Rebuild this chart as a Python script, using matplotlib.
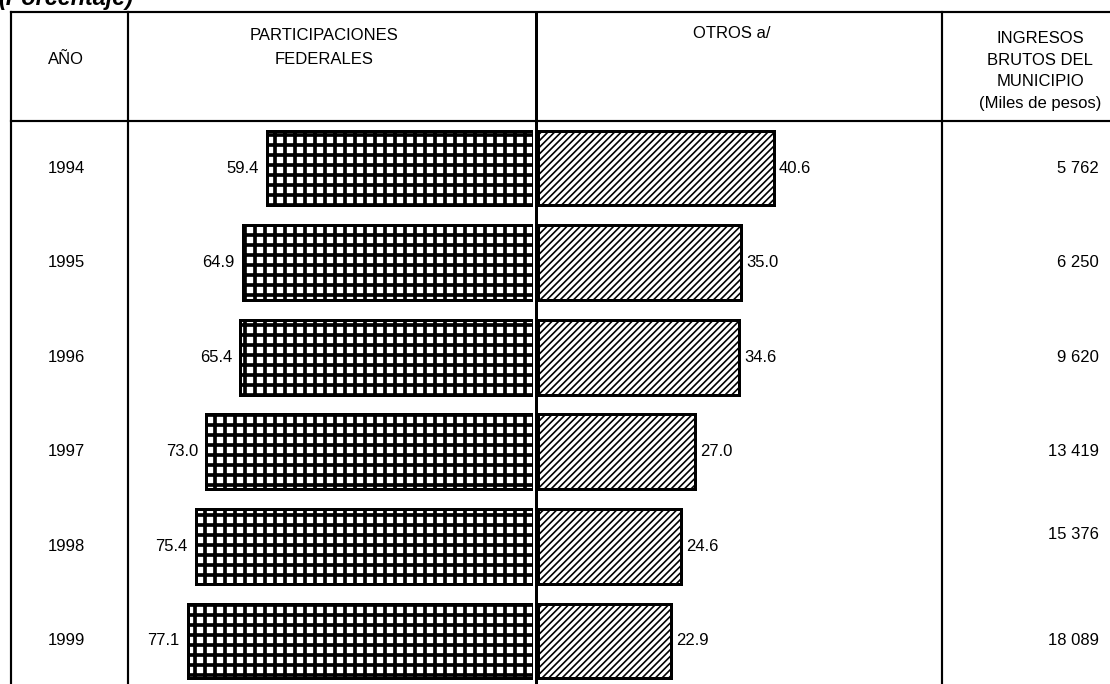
import matplotlib.pyplot as plt
from matplotlib.lines import Line2D

plt.rcParams['font.family'] = ['Liberation Sans', 'DejaVu Sans']

years = ["1994", "1995", "1996", "1997", "1998", "1999"]
participaciones = [59.4, 64.9, 65.4, 73.0, 75.4, 77.1]
otros = [40.6, 35.0, 34.6, 27.0, 24.6, 22.9]
ingresos = ["5 762", "6 250", "9 620", "13 419", "15 376", "18 089"]

W, H = 1110, 684
fig = plt.figure(figsize=(W / 120, H / 120), dpi=120)

# background axes in pixel units for the table frame and headers
bg = fig.add_axes([0, 0, 1, 1])
bg.set_xlim(0, W)
bg.set_ylim(H, 0)
bg.axis('off')

lw = 1.3
for y in (12, 121):
    bg.add_line(Line2D([11, W], [y, y], color='black', lw=lw))
for x in (11, 128, 942):
    bg.add_line(Line2D([x, x], [12, H], color='black', lw=lw))
bg.add_line(Line2D([536, 536], [12, H], color='black', lw=1.8))

fs = 10
bg.text(-2, 5, "(Porcentaje)", fontsize=14, fontweight='bold', fontstyle='italic',
        ha='left', va='baseline')
bg.text(66, 60, "AÑO", fontsize=fs, ha='center', va='center')
bg.text(324, 47, "PARTICIPACIONES\nFEDERALES", fontsize=fs, ha='center', va='center',
        linespacing=1.75)
bg.text(732, 33, "OTROS a/", fontsize=fs, ha='center', va='center')
bg.text(1040, 71, "INGRESOS\nBRUTOS DEL\nMUNICIPIO\n(Miles de pesos)", fontsize=fs,
        ha='center', va='center', linespacing=1.58)

# bar axes
top_px, left0, right0 = 121, 533, 538
pos = list(range(len(years)))
ylim = (5.455, -0.497)

ax_l = fig.add_axes([128 / W, 0, (left0 - 128) / W, (H - top_px) / H])
ax_r = fig.add_axes([right0 / W, 0, (942 - right0) / W, (H - top_px) / H])
for ax in (ax_l, ax_r):
    ax.set_ylim(*ylim)
    ax.axis('off')
    ax.patch.set_alpha(0)
ax_l.set_xlim((left0 - 128) / 4.475, 0)
ax_r.set_xlim(0, (942 - right0) / 5.81)

with plt.rc_context({'hatch.linewidth': 2.2}):
    bl = ax_l.barh(pos, participaciones, height=0.79, color='white',
                   edgecolor='black', hatch='++', lw=1.8)
with plt.rc_context({'hatch.linewidth': 1.0}):
    br = ax_r.barh(pos, otros, height=0.79, color='white',
                   edgecolor='black', hatch='//////', lw=1.8)

for p, v in zip(pos, participaciones):
    ax_l.annotate(f"{v:.1f}", (v, p), xytext=(-5, 0), textcoords='offset points',
                  ha='right', va='center', fontsize=fs)
for p, v in zip(pos, otros):
    ax_r.annotate(f"{v:.1f}", (v, p), xytext=(3, 0), textcoords='offset points',
                  ha='left', va='center', fontsize=fs)

# year and income columns aligned with the bar rows
for p, yr, ing in zip(pos, years, ingresos):
    ax_l.annotate(yr, (0, p), xycoords=('figure pixels', 'data'),
                  xytext=(66 * 0.6, 0), textcoords='offset points',
                  ha='center', va='center', fontsize=fs)
    dy = 7 if yr == "1998" else 0
    ax_r.annotate(ing, (0, p), xycoords=('figure pixels', 'data'),
                  xytext=(1099 * 0.6, dy), textcoords='offset points',
                  ha='right', va='center', fontsize=fs)

fig.savefig("out.png", dpi=120)
